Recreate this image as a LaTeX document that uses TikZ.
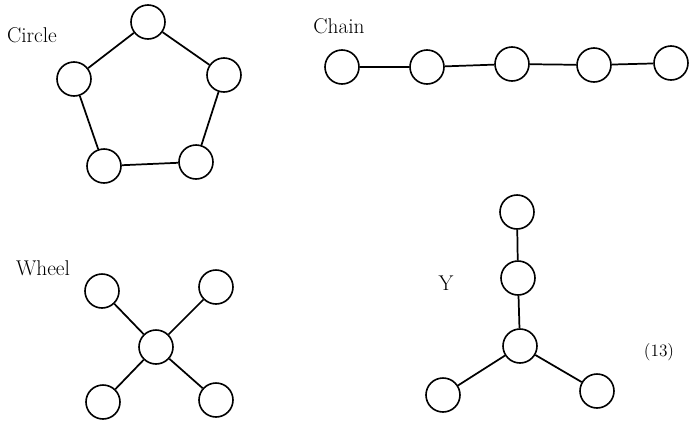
\documentclass[tikz,border=0pt]{standalone}
\begin{document}
\begin{tikzpicture}[x=0.75pt,y=-0.75pt,
  vertex/.style={circle,draw,line width=1.2pt,minimum size=25.5pt,inner sep=0pt},
  link/.style={line width=1.3pt},
  caption/.style={anchor=base,inner sep=0pt,font=\fontsize{16}{19}\selectfont},
  tag/.style={anchor=base,inner sep=0pt,font=\fontsize{13}{15}\selectfont}]
\useasboundingbox (0,0) rectangle (690,422);

% Circle: five vertices joined in a ring
\node[vertex] (c1) at (148,22) {};
\node[vertex] (c2) at (224,75) {};
\node[vertex] (c3) at (196,162) {};
\node[vertex] (c4) at (104,166) {};
\node[vertex] (c5) at (74,79) {};
\draw[link] (c1) -- (c2);
\draw[link] (c2) -- (c3);
\draw[link] (c3) -- (c4);
\draw[link] (c4) -- (c5);
\draw[link] (c5) -- (c1);
\node[caption] (lcircle) at (32,42) {Circle};

% Chain: five vertices in a row
\node[vertex] (h1) at (342,67) {};
\node[vertex] (h2) at (427,67) {};
\node[vertex] (h3) at (512,64) {};
\node[vertex] (h4) at (594,65) {};
\node[vertex] (h5) at (671,63) {};
\draw[link] (h1) -- (h2);
\draw[link] (h2) -- (h3);
\draw[link] (h3) -- (h4);
\draw[link] (h4) -- (h5);
\node[caption] (lchain) at (339,33) {Chain};

% Wheel: hub with four spokes
\node[vertex] (w0) at (156,347) {};
\node[vertex] (w1) at (102,291) {};
\node[vertex] (w2) at (216,287) {};
\node[vertex] (w3) at (103,402) {};
\node[vertex] (w4) at (216,400) {};
\draw[link] (w0) -- (w1);
\draw[link] (w0) -- (w2);
\draw[link] (w0) -- (w3);
\draw[link] (w0) -- (w4);
\node[caption] (lwheel) at (43,275) {Wheel};

% Y: stem of two vertices, branching into two arms
\node[vertex] (y1) at (517,212) {};
\node[vertex] (y2) at (518,278) {};
\node[vertex] (y0) at (520,346) {};
\node[vertex] (y3) at (443,395) {};
\node[vertex] (y4) at (597,391) {};
\draw[link] (y1) -- (y2);
\draw[link] (y2) -- (y0);
\draw[link] (y0) -- (y3);
\draw[link] (y0) -- (y4);
\node[caption] (ly) at (446,290) {Y};

\node[tag] (eqno) at (659,356) {(13)};
\end{tikzpicture}
\end{document}
